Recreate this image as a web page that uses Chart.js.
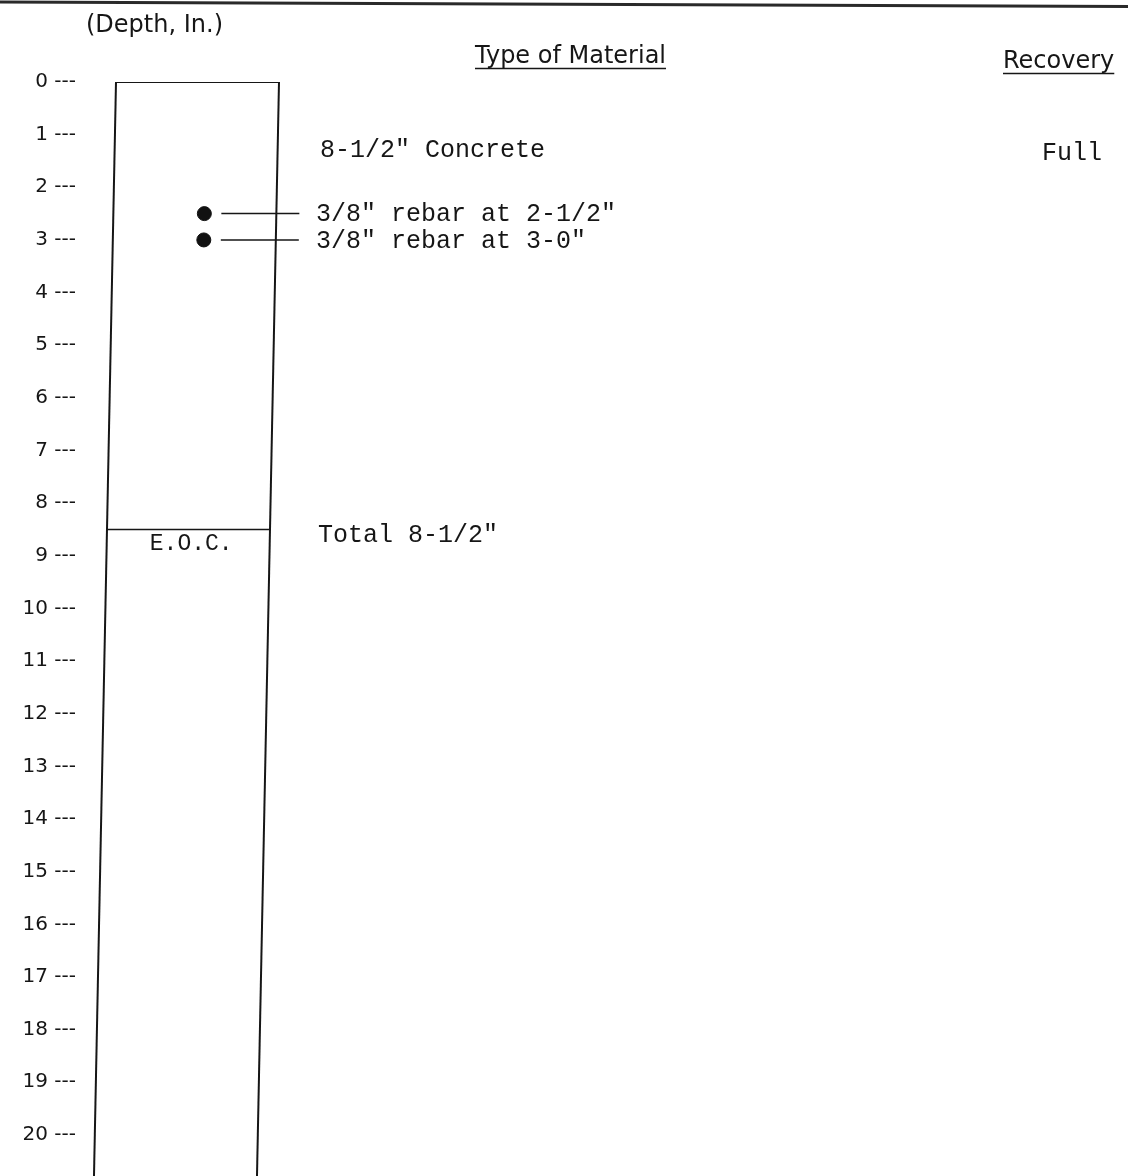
<!DOCTYPE html>
<html>
<head>
<meta charset="utf-8">
<script src="https://cdn.jsdelivr.net/npm/chart.js@4/dist/chart.umd.min.js"></script>
<style>
  html, body { margin: 0; padding: 0; background: #ffffff; }
  #wrap { width: 1128px; height: 1176px; position: relative; }
</style>
</head>
<body>
<div id="wrap"><canvas id="c" width="1128" height="1176"></canvas></div>
<script>
// ---------- DATA ----------
const depthTicks = [0,1,2,3,4,5,6,7,8,9,10,11,12,13,14,15,16,17,18,19,20];
const layerTops = [0];
const layerBottoms = [8.5];
const layerNames = ['8-1/2" Concrete'];
const recoveryValues = ['Full'];
const rebarDepths = [2.5, 3.0];
const rebarLabels = ['3/8" rebar at 2-1/2"', '3/8" rebar at 3-0"'];
const totalLabel = 'Total 8-1/2"';
const endLabel = 'E.O.C.';
const depthAxisTitle = '(Depth, In.)';
const materialHeader = 'Type of Material';
const recoveryHeader = 'Recovery';
const depthMax = 20.78;

// ---------- LAYOUT (positions / styles only) ----------
const LAYOUT = {
  colLeft: 116, colRight: 279, skew: 1.06,
  rebarX: 207, leaderFrom: 224, leaderTo: 302,
  descX: 320, rebarTextX: 316, recoveryX: 1042,
  descDepth: 1.3, totalDepth: 8.62, eocDepth: 8.78
};
const INK = '#161616';
const MONO = '"Liberation Mono", "DejaVu Sans Mono", monospace';
const SANS = '"DejaVu Sans", sans-serif';

const leftAt = d => LAYOUT.colLeft - LAYOUT.skew * d;
const rightAt = d => LAYOUT.colRight - LAYOUT.skew * d;

const lineDs = (pts, w) => ({
  data: pts, showLine: true, borderColor: INK, borderWidth: w,
  pointRadius: 0, pointHoverRadius: 0, fill: false, tension: 0
});

const datasets = [];
// column outline
datasets.push(lineDs([{x: leftAt(layerTops[0]), y: layerTops[0]}, {x: rightAt(layerTops[0]), y: layerTops[0]}], 2));
datasets.push(lineDs([{x: leftAt(layerTops[0]), y: layerTops[0]}, {x: leftAt(depthMax), y: depthMax}], 2));
datasets.push(lineDs([{x: rightAt(layerTops[0]), y: layerTops[0]}, {x: rightAt(depthMax), y: depthMax}], 2));
// layer boundaries
layerBottoms.forEach(d => datasets.push(lineDs([{x: leftAt(d), y: d}, {x: rightAt(d), y: d}], 1.6)));
// rebar leader lines
rebarDepths.forEach(d => datasets.push(lineDs([{x: LAYOUT.leaderFrom - LAYOUT.skew * d, y: d}, {x: LAYOUT.leaderTo - LAYOUT.skew * d, y: d}], 1.5)));
// rebar dots
datasets.push({
  data: rebarDepths.map(d => ({x: LAYOUT.rebarX - LAYOUT.skew * d, y: d})),
  showLine: false, pointRadius: 7, pointHoverRadius: 7,
  pointBackgroundColor: '#111', pointBorderColor: '#111', pointBorderWidth: 1
});

const textPlugin = {
  id: 'coreText',
  afterDraw(chart) {
    const ctx = chart.ctx;
    const y = chart.scales.y;
    ctx.save();
    // top border of sheet
    ctx.strokeStyle = '#2a2a2a';
    ctx.lineWidth = 3;
    ctx.beginPath(); ctx.moveTo(0, 2); ctx.lineTo(1128, 6.5); ctx.stroke();

    ctx.fillStyle = INK;
    ctx.textBaseline = 'alphabetic';
    ctx.font = '24px ' + SANS;
    ctx.textAlign = 'left';
    ctx.fillText(depthAxisTitle, 86, 32);
    const header = (t, x, base) => {
      ctx.fillText(t, x, base);
      const w = ctx.measureText(t).width;
      ctx.lineWidth = 1.6;
      ctx.beginPath(); ctx.moveTo(x, base + 5.5); ctx.lineTo(x + w, base + 5.5); ctx.stroke();
    };
    ctx.strokeStyle = INK;
    header(materialHeader, 475, 63);
    header(recoveryHeader, 1003, 68);

    ctx.font = '25px ' + MONO;
    ctx.textBaseline = 'middle';
    layerNames.forEach((t, i) => {
      const d = layerTops[i] + LAYOUT.descDepth;
      ctx.fillText(t, LAYOUT.descX, y.getPixelForValue(d));
      ctx.fillText(recoveryValues[i], LAYOUT.recoveryX, y.getPixelForValue(d) + 3);
    });
    rebarLabels.forEach((t, i) => {
      ctx.fillText(t, LAYOUT.rebarTextX, y.getPixelForValue(rebarDepths[i]) + 1);
    });
    ctx.fillText(totalLabel, 318, y.getPixelForValue(LAYOUT.totalDepth));
    ctx.textAlign = 'center';
    ctx.font = '23px ' + MONO;
    const ed = LAYOUT.eocDepth;
    ctx.fillText(endLabel, (leftAt(ed) + rightAt(ed)) / 2 + 3, y.getPixelForValue(ed));
    ctx.restore();
  }
};

new Chart(document.getElementById('c'), {
  type: 'scatter',
  data: { datasets },
  plugins: [textPlugin],
  options: {
    responsive: false,
    animation: false,
    devicePixelRatio: 1,
    layout: { autoPadding: false, padding: { top: 82, left: 0, right: 0, bottom: 0 } },
    plugins: { legend: { display: false }, tooltip: { enabled: false } },
    scales: {
      x: { type: 'linear', display: false, min: 80, max: 1128 },
      y: {
        type: 'linear', reverse: true, min: 0, max: depthMax,
        afterFit: s => { s.width = 80; s.paddingTop = 0; s.paddingBottom = 0; },
        afterBuildTicks: s => { s.ticks = depthTicks.map(v => ({ value: v })); },
        grid: { display: false, drawTicks: false },
        border: { display: false },
        ticks: {
          padding: 4, color: INK,
          font: { family: SANS, size: 20 },
          callback: v => v + ' ---'
        }
      }
    }
  }
});
</script>
</body>
</html>
